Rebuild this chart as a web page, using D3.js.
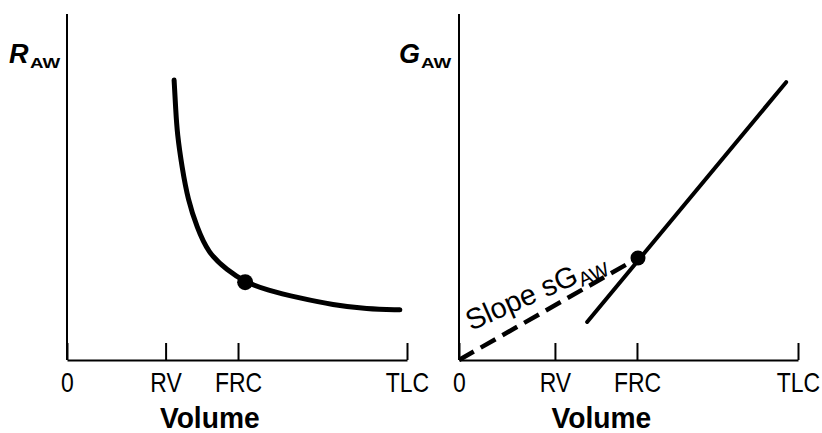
<!DOCTYPE html>
<html>
<head>
<meta charset="utf-8">
<script src="https://cdn.jsdelivr.net/npm/d3@7"></script>
<style>
  body { margin: 0; background: #fff; }
  svg text { font-family: "Liberation Sans", Arial, Helvetica, sans-serif; fill: black; }
  .tick-label { font-size: 28px; }
  .axis-title { font-size: 30px; font-weight: bold; }
</style>
</head>
<body>
<svg id="canvas" width="822" height="433"></svg>
<script>
// schematic: airway resistance and conductance vs lung volume
var volumeLabels = ['0', 'RV', 'FRC', 'TLC'];
var rawTickPos = [0, 29, 50.3, 100];   // left panel tick positions (% of TLC)
var gawTickPos = [0, 28.3, 52.5, 100]; // right panel tick positions

// R_AW curve
var rawCurveX = [31.5, 32.0, 32.4, 33.8, 35.6, 38.2, 41.5, 47.1, 52.4, 58.8, 68.5, 78.2, 88.2, 97.9];
var rawCurveY = [80.9, 72.0, 65.6, 55.8, 46.2, 38.4, 30.9, 26.0, 22.5, 20.2, 17.9, 15.9, 14.7, 14.5];
var rawFrcPoint = [52.4, 22.5];

// G_AW line, dashed slope line and FRC point
var gawLineX = [37.8, 96.5];
var gawLineY = [11.0, 80.3];
var gawDashX = [0, 52.8];
var gawDashY = [0, 29.5];
var gawFrcPoint = [52.8, 29.5];

var canvas = d3.select('#canvas');

var yScale = d3.scaleLinear().domain([0, 100]).range([360, 14]);
var xLeft = d3.scaleLinear().domain([0, 100]).range([67, 407]);
var xRight = d3.scaleLinear().domain([0, 100]).range([459, 798]);

function drawAxes(xScale, tickPos) {
  var g = canvas.append('g');
  // vertical axis
  g.append('line')
    .attr('x1', xScale(0)).attr('x2', xScale(0))
    .attr('y1', yScale(100)).attr('y2', yScale(0))
    .style('stroke', 'black').style('stroke-width', 2);

  var xAxis = d3.axisBottom(xScale)
    .tickValues(tickPos)
    .tickFormat(function(d, i) { return volumeLabels[i]; })
    .tickSizeInner(-17)
    .tickSizeOuter(0)
    .tickPadding(12);

  var ax = g.append('g')
    .attr('transform', 'translate(0,' + yScale(0) + ')')
    .call(xAxis)
    .attr('font-size', null).attr('font-family', null);
  ax.select('.domain').style('stroke', 'black').style('stroke-width', 2);
  ax.selectAll('.tick line').style('stroke', 'black').style('stroke-width', 2);
  ax.selectAll('.tick text')
    .attr('class', 'tick-label')
    .attr('fill', 'black')
    .attr('transform', 'scale(0.82,1)'); // condensed look of the original

  g.append('text')
    .attr('class', 'axis-title')
    .attr('transform', 'translate(' + xScale(42) + ',428) scale(0.94,1)')
    .attr('text-anchor', 'middle')
    .text('Volume');
}

drawAxes(xLeft, rawTickPos);
drawAxes(xRight, gawTickPos);

// y labels, bold italic letter with a wide bold subscript
function yLabel(x, letter, subX) {
  canvas.append('text')
    .attr('x', x).attr('y', 63)
    .style('font-weight', 'bold').style('font-style', 'italic')
    .style('font-size', '27px')
    .text(letter);
  canvas.append('text')
    .attr('transform', 'translate(' + subX + ',68) scale(1.25,1)')
    .style('font-weight', 'bold')
    .style('font-size', '15px')
    .text('AW');
}
yLabel(9, 'R', 30);
yLabel(399, 'G', 421);

// R_AW curve
var rawLine = d3.line()
  .x(function(d) { return xLeft(d[0]); })
  .y(function(d) { return yScale(d[1]); })
  .curve(d3.curveBasis);

canvas.append('path')
  .datum(d3.zip(rawCurveX, rawCurveY))
  .attr('d', rawLine)
  .style('fill', 'none')
  .style('stroke', 'black')
  .style('stroke-width', 5)
  .style('stroke-linecap', 'round');

canvas.append('circle')
  .attr('cx', xLeft(rawFrcPoint[0]))
  .attr('cy', yScale(rawFrcPoint[1]))
  .attr('r', 8)
  .style('fill', 'black');

// G_AW
var gawLine = d3.line()
  .x(function(d) { return xRight(d[0]); })
  .y(function(d) { return yScale(d[1]); });

canvas.append('path')
  .datum(d3.zip(gawDashX, gawDashY))
  .attr('d', gawLine)
  .style('fill', 'none')
  .style('stroke', 'black')
  .style('stroke-width', 4.5)
  .style('stroke-dasharray', '17,8');

canvas.append('path')
  .datum(d3.zip(gawLineX, gawLineY))
  .attr('d', gawLine)
  .style('fill', 'none')
  .style('stroke', 'black')
  .style('stroke-width', 4)
  .style('stroke-linecap', 'round');

canvas.append('circle')
  .attr('cx', xRight(gawFrcPoint[0]))
  .attr('cy', yScale(gawFrcPoint[1]))
  .attr('r', 7.5)
  .style('fill', 'black');

// slope annotation along the dashed line
var slope = canvas.append('text')
  .attr('transform', 'translate(471,331) rotate(-24)')
  .style('font-size', '29px');
slope.append('tspan').text('Slope sG');
slope.append('tspan').attr('dy', 5).style('font-size', '20px').text('AW');
</script>
</body>
</html>
